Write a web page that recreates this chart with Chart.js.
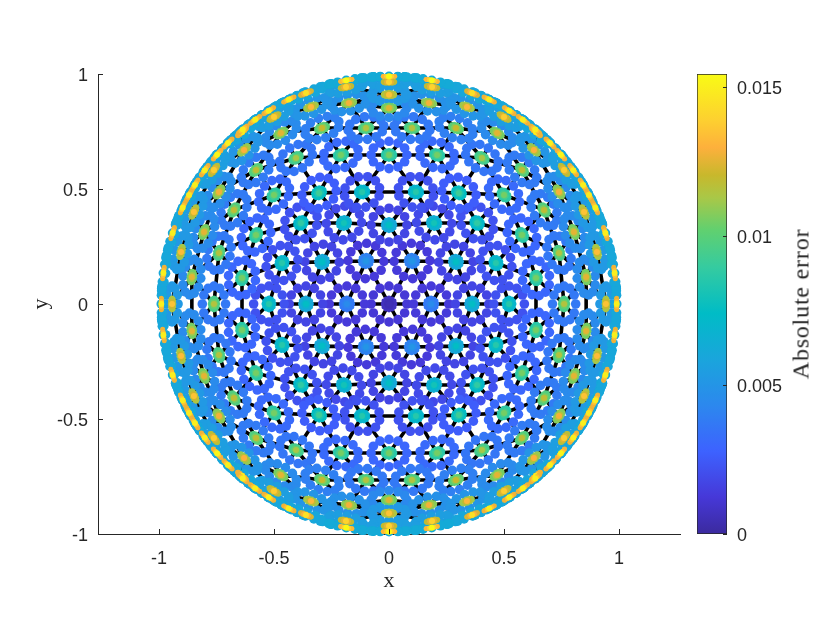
<!DOCTYPE html>
<html>
<head>
<meta charset="utf-8">
<title>Absolute error</title>
<script src="https://cdn.jsdelivr.net/npm/chart.js@4"></script>
<style>
    html, body { margin: 0; background: #fff; }
    #wrap { position: relative; width: 840px; height: 630px; overflow: hidden; }
    canvas { position: absolute; left: 0; top: 0; }
    #barTitle {
        position: absolute; left: 801px; top: 304px; letter-spacing: 0.8px;
        font: 24px "Liberation Serif", serif; color: #262626; white-space: nowrap;
        transform: translate(-50%, -50%) rotate(-90deg);
    }
</style>
</head>
<body>
<div id="wrap">
    <canvas id="scatterChart" width="840" height="630"></canvas>
    <canvas id="barChart" width="840" height="630"></canvas>
    <div id="barTitle">Absolute error</div>
</div>
<script>
// Node centres of the first quadrant (the plot is mirrored in x and y)
const nodeX = [0, .183, .361, .522, .761, .943, .996,
    .100, .291, .465, .639, .857, .983,
    0, .196, .383, .578, .739, .904, .804, .943,
    .117, .304, .500, .674, .848, .739, .870,
    0, .209, .404, .578, .761, .630, .470, .639, .100, .291,
    .857, .761, .652, .530, .500, .339, .174, 0,
    .361, .187, 0, .187, 0,
    .906, .808, .707, .588, .440, 0];
const nodeY = [0, 0, 0, 0, 0, 0, 0,
    .187, .183, .178, .113, .117, .135,
    .343, .352, .352, .300, .222, .226, .313, .309,
    .487, .483, .474, .409, .400, .487, .474,
    .648, .648, .635, .583, .583, .670, .743, .748, .765, .765,
    .526, .661, .778, .852, .813, .857, .874, .852,
    .917, .943, .965, .978, .998,
    .423, .587, .707, .809, .898, .910];
// Error at each node centre and on the ring around it
const centerErr = [.0005, .0045, .0075, .0085, .0115, .0135, .015,
    .005, .0075, .0085, .0105, .0125, .015,
    .0075, .008, .0088, .0105, .0115, .0133, .0125, .015,
    .0085, .0092, .0105, .0118, .0135, .0128, .0148,
    .0105, .0105, .0113, .0118, .0138, .013, .0125, .015, .0115, .012,
    .015, .0152, .015, .015, .0138, .0132, .0128, .0124,
    .0145, .014, .014, .0155, .0155,
    .015, .015, .015, .015, .015, .0135];
const ringErr = [.0012, .0013, .0017, .0022, .0037, .0052, .006,
    .0013, .0017, .0022, .003, .0045, .006,
    .0017, .0019, .0022, .003, .0037, .0052, .0045, .006,
    .0022, .0026, .0031, .0038, .0052, .0046, .006,
    .003, .0031, .0036, .0038, .0055, .005, .0045, .006, .0037, .004,
    .006, .006, .006, .006, .0055, .005, .0048, .0044,
    .006, .0055, .0055, .0062, .0062,
    .006, .006, .006, .006, .006, .0052];

// Dots around a node, in units of the plot (radial, tangential)
const ringU = [.078, .068, .039, 0, -.039, -.068, -.078, -.068, -.039, 0, .039, .068];
const ringV = [0, .039, .068, .078, .068, .039, 0, -.039, -.068, -.078, -.068, -.039];
const outerCoreU = [.026, .0225, .013, 0, -.013, -.0225, -.026, -.0225, -.013, 0, .013, .0225];
const outerCoreV = [0, .013, .0225, .026, .0225, .013, 0, -.013, -.0225, -.026, -.0225, -.013];
const midCoreU = [.012, .006, -.006, -.012, -.006, .006];
const midCoreV = [0, .0104, .0104, 0, -.0104, -.0104];

const axisTicks = [-1, -0.5, 0, 0.5, 1];
const barTicks = [0, 0.005, 0.01, 0.015];
const barLabels = ['0', '0.005', '0.01', '0.015'];
const errMax = 0.01543;

const colorStops = [
    [0, '#3b2a9e'], [.08, '#4638d8'], [.18, '#3d62ff'], [.28, '#2c88ee'],
    [.38, '#1aa5dc'], [.48, '#00bcc6'], [.58, '#35cba0'], [.66, '#60d070'],
    [.73, '#a8c848'], [.78, '#c8b82c'], [.84, '#fdb03c'], [.9, '#fdd030'], [1, '#f9fb15']
];

function colorFor(err) {
    const t = Math.min(1, err / errMax);
    for (let i = 1; i < colorStops.length; i++) {
        if (t <= colorStops[i][0]) {
            const a = colorStops[i - 1], b = colorStops[i];
            const f = (t - a[0]) / (b[0] - a[0]);
            const ca = parseInt(a[1].slice(1), 16), cb = parseInt(b[1].slice(1), 16);
            const mix = s => Math.round(((ca >> s) & 255) * (1 - f) + ((cb >> s) & 255) * f);
            return `rgb(${mix(16)},${mix(8)},${mix(0)})`;
        }
    }
    return colorStops[colorStops.length - 1][1];
}

// All four quadrants
const nodes = [];
nodeX.forEach((x, i) => {
    const y = nodeY[i];
    const signs = [[1, 1]];
    if (x !== 0) signs.push([-1, 1]);
    if (y !== 0) signs.push([1, -1]);
    if (x !== 0 && y !== 0) signs.push([-1, -1]);
    signs.forEach(s => nodes.push({ x: x * s[0], y: y * s[1], center: centerErr[i], ring: ringErr[i] }));
});
nodes.sort((a, b) => a.center - b.center);

// Dots, squeezed towards the rim of the disk and kept inside it
const rings = [], ringColors = [], cores = [], coreColors = [], coreSizes = [];
function place(n, u, v) {
    const r = Math.hypot(n.x, n.y);
    const cx = r ? n.x / r : 1, cy = r ? n.y / r : 0;
    const squeeze = Math.max(0.15, Math.sqrt(Math.max(0, 1 - r * r)));
    let x = n.x + u * squeeze * cx - v * cy;
    let y = n.y + u * squeeze * cy + v * cx;
    const out = Math.hypot(x, y);
    if (out > 0.99) { x *= 0.99 / out; y *= 0.99 / out; }
    return { x, y };
}
nodes.forEach(n => {
    ringU.forEach((u, k) => {
        rings.push(place(n, u, ringV[k]));
        ringColors.push(colorFor(n.ring));
    });
    outerCoreU.forEach((u, k) => {
        cores.push(place(n, u, outerCoreV[k]));
        coreColors.push(colorFor(n.center * 0.75 + n.ring * 0.25));
        coreSizes.push(2.4);
    });
    midCoreU.forEach((u, k) => {
        cores.push(place(n, u, midCoreV[k]));
        coreColors.push(colorFor(n.center * 0.9));
        coreSizes.push(2.4);
    });
    cores.push(place(n, 0, 0));
    coreColors.push(colorFor(n.center));
    coreSizes.push(3);
});

// Black mesh: join nodes that are neighbours on the sphere, but not along the rim itself
const edges = [];
const height = n => Math.sqrt(Math.max(0, 1 - n.x * n.x - n.y * n.y));
nodes.forEach((a, i) => {
    for (let j = i + 1; j < nodes.length; j++) {
        const b = nodes[j];
        const onRim = Math.hypot(a.x, a.y) > 0.95 && Math.hypot(b.x, b.y) > 0.95;
        if (!onRim && Math.hypot(a.x - b.x, a.y - b.y, height(a) - height(b)) < 0.245) {
            edges.push({ x: a.x, y: a.y }, { x: b.x, y: b.y }, { x: NaN, y: NaN });
        }
    }
});

// MATLAB style ticks pointing into the plot
const innerTicks = {
    id: 'innerTicks',
    afterDatasetsDraw(chart) {
        const ctx = chart.ctx, area = chart.chartArea;
        ctx.save();
        ctx.strokeStyle = '#262626';
        ctx.lineWidth = 1;
        ctx.beginPath();
        Object.values(chart.scales).forEach(scale => {
            if (!scale.options.display) return;
            scale.ticks.forEach(t => {
                const p = Math.round(scale.getPixelForValue(t.value)) + 0.5;
                if (scale.axis === 'x') {
                    ctx.moveTo(p, area.bottom); ctx.lineTo(p, area.bottom - 5);
                } else if (scale.position === 'left') {
                    ctx.moveTo(area.left, p); ctx.lineTo(area.left + 5, p);
                } else {
                    ctx.moveTo(area.right, p); ctx.lineTo(area.right - 4, p);
                }
            });
        });
        ctx.stroke();
        ctx.restore();
    }
};

const tickFont = { family: '"Liberation Sans", Arial, sans-serif', size: 18 };
// the empty first line drops the label 2px, where the reference has it
const yTickFont = { family: '"Liberation Sans", Arial, sans-serif', size: 18, lineHeight: 0.22 };
const titleFont = { family: '"Liberation Serif", serif', size: 22 };

function axisOptions(titleText, fit) {
    return {
        type: 'linear',
        min: fit.min,
        max: fit.max,
        grid: { display: false, drawTicks: false },
        border: { color: '#262626', width: 1 },
        ticks: {
            color: '#262626', font: fit.font, padding: fit.pad, maxRotation: 0,
            autoSkip: false,
            callback: fit.label
        },
        title: { display: true, text: titleText, color: '#262626', font: titleFont, padding: fit.titlePad },
        afterBuildTicks: scale => { scale.ticks = axisTicks.map(value => ({ value })); },
        afterFit: fit.afterFit
    };
}

new Chart(document.getElementById('scatterChart').getContext('2d'), {
    type: 'scatter',
    data: {
        datasets: [
            {
                data: cores, clip: false,
                pointBackgroundColor: coreColors, pointRadius: coreSizes, pointBorderWidth: 0
            },
            {
                data: rings, clip: false,
                pointBackgroundColor: ringColors, pointRadius: 4.8, pointBorderWidth: 0
            },
            {
                data: edges, showLine: true, spanGaps: false, clip: false,
                borderColor: '#000', borderWidth: 3.6, pointRadius: 0, borderCapStyle: 'butt'
            }
        ]
    },
    options: {
        responsive: false,
        animation: false,
        layout: { padding: { left: 28, top: 74, right: 160, bottom: 36 } },
        plugins: { legend: { display: false }, tooltip: { enabled: false } },
        scales: {
            x: axisOptions('x', {
                min: -1.265, max: 1.265, pad: 14, font: tickFont, titlePad: { top: 4, bottom: 0 },
                label: value => String(value),
                afterFit: s => { s.height = 60; }
            }),
            y: axisOptions('y', {
                min: -1, max: 1, pad: 10, font: yTickFont, titlePad: { top: 0, bottom: 0 },
                label: value => ['', String(value)],
                afterFit: s => { s.width = 70; }
            })
        }
    },
    plugins: [innerTicks]
});

// Colour bar
const barCanvas = document.getElementById('barChart');
new Chart(barCanvas.getContext('2d'), {
    type: 'bar',
    data: {
        labels: ['error'],
        datasets: [{
            data: [[0, errMax]],
            barPercentage: 1,
            categoryPercentage: 1,
            borderColor: '#262626',
            borderWidth: 1,
            borderSkipped: false,
            backgroundColor(context) {
                const area = context.chart.chartArea;
                if (!area) return colorStops[0][1];
                const g = context.chart.ctx.createLinearGradient(0, area.bottom, 0, area.top);
                colorStops.forEach(s => g.addColorStop(s[0], s[1]));
                return g;
            }
        }]
    },
    options: {
        responsive: false,
        animation: false,
        layout: { padding: { left: 697, top: 74, right: 0, bottom: 96 } },
        plugins: { legend: { display: false }, tooltip: { enabled: false } },
        scales: {
            x: { display: false },
            y: {
                position: 'right',
                min: 0,
                max: errMax,
                grid: { display: false, drawTicks: false },
                border: { display: false },
                ticks: {
                    color: '#262626', font: yTickFont, padding: 10, autoSkip: false,
                    callback: value => ['', barLabels[barTicks.indexOf(value)]]
                },
                afterBuildTicks: scale => { scale.ticks = barTicks.map(value => ({ value })); },
                afterFit: s => { s.width = 113; }
            }
        }
    },
    plugins: [innerTicks]
});
</script>
</body>
</html>
